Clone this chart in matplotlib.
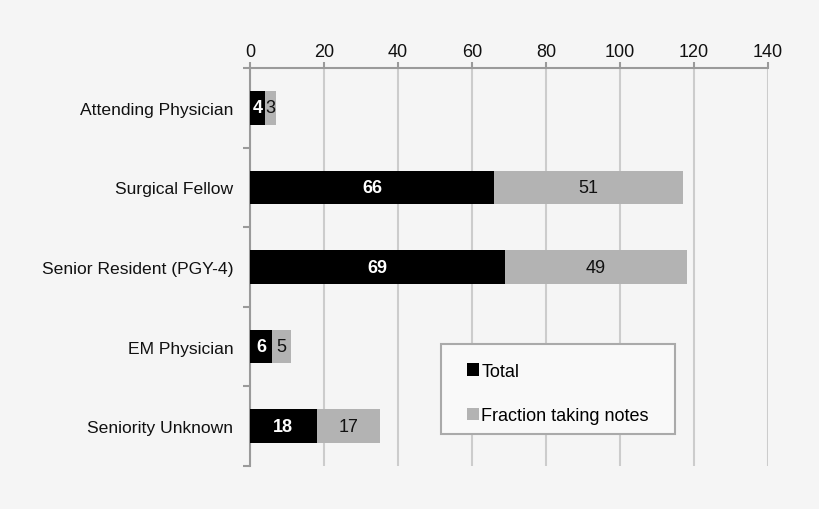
import numpy as np
import matplotlib.pyplot as plt
from matplotlib.patches import Rectangle

plt.rcParams['font.family'] = ['Liberation Sans', 'DejaVu Sans']

# Data
categories = ["Attending Physician", "Surgical Fellow", "Senior Resident (PGY-4)",
              "EM Physician", "Seniority Unknown"]
total = [4, 66, 69, 6, 18]
fraction = [3, 51, 49, 5, 17]
x_ticks = [0, 20, 40, 60, 80, 100, 120, 140]

bg = "#f5f5f5"
axis_gray = "#9a9a9a"
grid_gray = "#cccccc"
bar_gray = "#b3b3b3"

fig = plt.figure(figsize=(8.2, 5.1), dpi=100, facecolor=bg)
ax = fig.add_axes([0.3049, 0.0843, 0.6317, 0.7804], facecolor=bg)

y = np.arange(len(categories))
h = 0.42
b1 = ax.barh(y, total, height=h, color="black", label="Total", zorder=3)
b2 = ax.barh(y, fraction, left=total, height=h, color=bar_gray,
             label="Fraction taking notes", zorder=3)

for yi, t, f in zip(y, total, fraction):
    ax.text(t / 2, yi, str(t), ha="center", va="center", color="white",
            fontsize=13, fontweight="bold", zorder=4)
    ax.text(t + f / 2, yi, str(f), ha="center", va="center", color="#111111",
            fontsize=13, zorder=4)

ax.set_xlim(0, 140)
ax.set_ylim(len(categories) - 0.5, -0.5)
ax.xaxis.tick_top()
ax.set_xticks(x_ticks)
ax.tick_params(axis="x", which="major", direction="out", length=4, width=1.5,
               color=axis_gray, labelsize=13, labelcolor="#111111", pad=2)
ax.grid(axis="x", color=grid_gray, linewidth=1.5, zorder=0)

ax.set_yticks(y)
ax.set_yticklabels(categories)
ax.set_yticks(np.arange(-0.5, len(categories)), minor=True)
ax.tick_params(axis="y", which="major", length=0, labelsize=12.6,
               labelcolor="#111111", pad=12)
ax.tick_params(axis="y", which="minor", direction="out", length=5, width=1.5,
               color=axis_gray)

for side in ["right", "bottom"]:
    ax.spines[side].set_visible(False)
for side in ["top", "left"]:
    ax.spines[side].set_color(axis_gray)
    ax.spines[side].set_linewidth(1.5)

# legend box
box = Rectangle((0.5378, 0.1471), 0.2854, 0.1765, transform=fig.transFigure,
                facecolor="#f9f9f9", edgecolor="#aaaaaa", linewidth=1.5, zorder=5)
fig.patches.append(box)

leg = fig.legend(handles=[b1, b2], loc="center",
                 bbox_to_anchor=(0.5378 + 0.2854 / 2, 0.1471 + 0.1765 / 2 - 0.009),
                 bbox_transform=fig.transFigure, frameon=False, fontsize=13,
                 handlelength=0.68, handleheight=0.68, handletextpad=0.1,
                 labelspacing=1.5, borderpad=0)
leg.set_zorder(6)

fig.savefig("out.png", dpi=100, facecolor=bg)
